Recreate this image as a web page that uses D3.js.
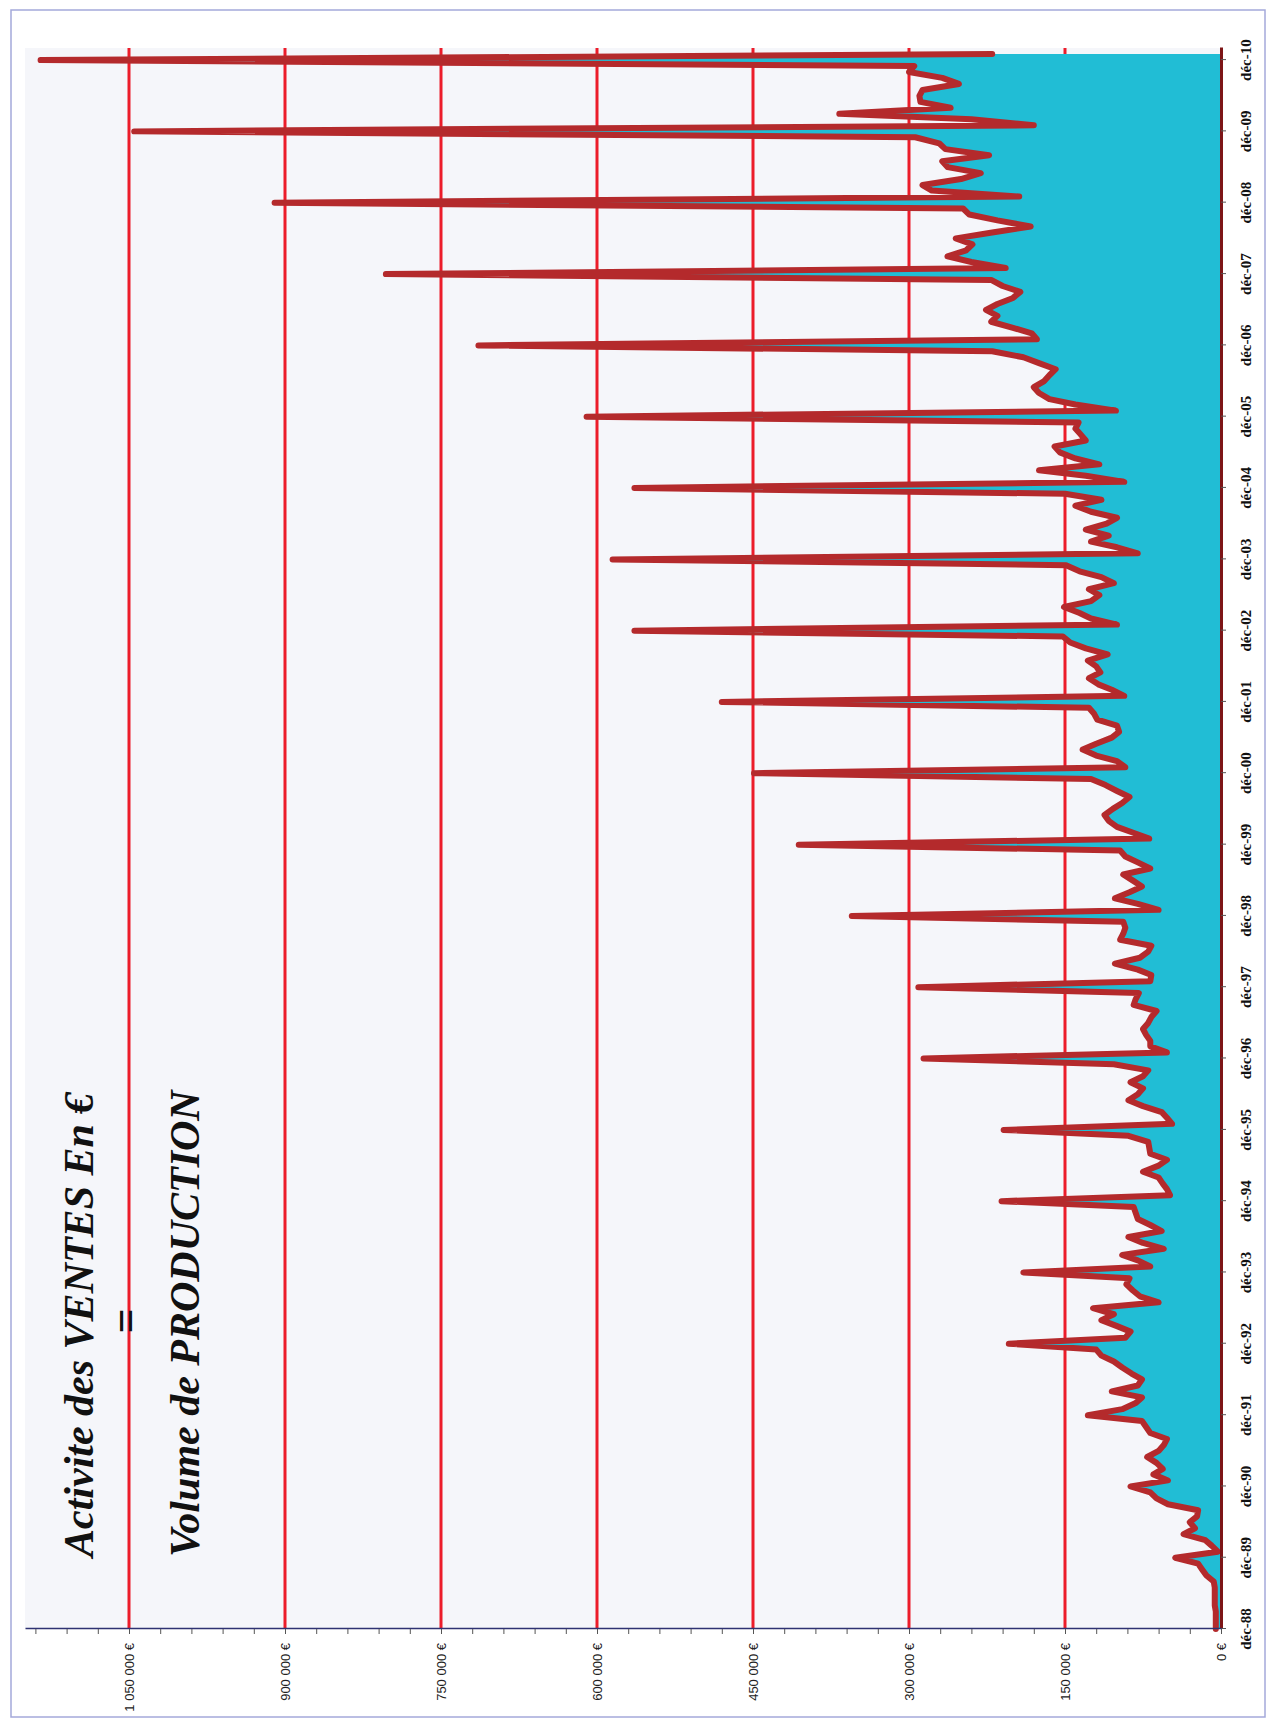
<!DOCTYPE html>
<html>
<head>
<meta charset="utf-8">
<script src="https://cdn.jsdelivr.net/npm/d3@7"></script>
<style>
  html, body { margin: 0; padding: 0; background: #fff; overflow: hidden; }
  svg { display: block; }
</style>
</head>
<body>
<svg></svg>
<script>
// monthly sales, from déc-88 to janv-11 (one row per year, Jan..Dec)
const ventes = [
  5000,
  5000, 5000, 5000, 6000, 6000, 6000, 6000, 7000, 14000, 18000, 22000, 44000,
  3000, 9000, 15000, 36000, 25000, 30000, 23000, 22000, 51000, 62000, 68000, 87000,
  51000, 65000, 56000, 62000, 71000, 60000, 55000, 52000, 68000, 72000, 76000, 128000,
  95000, 82000, 76000, 105000, 80000, 76000, 86000, 95000, 103000, 115000, 120000, 204000,
  92000, 87000, 100000, 115000, 103000, 123000, 60000, 78000, 85000, 91000, 88000, 190000,
  68000, 80000, 95000, 55000, 75000, 89000, 57000, 68000, 80000, 82000, 84000, 211000,
  49000, 52000, 56000, 60000, 75000, 60000, 52000, 68000, 69000, 70000, 89000, 209000,
  47000, 52000, 57000, 75000, 89000, 80000, 75000, 87000, 75000, 70000, 103000, 286000,
  52000, 68000, 68000, 72000, 75000, 70000, 67000, 62000, 84000, 82000, 79000, 291000,
  68000, 67000, 80000, 102000, 78000, 70000, 67000, 97000, 94000, 92000, 94000, 355000,
  60000, 80000, 102000, 88000, 76000, 85000, 94000, 68000, 80000, 92000, 97000, 406000,
  69000, 85000, 100000, 108000, 112000, 104000, 95000, 88000, 100000, 111000, 125000, 449000,
  92000, 100000, 120000, 133000, 120000, 105000, 98000, 100000, 119000, 122000, 127000, 480000,
  93000, 105000, 118000, 127000, 116000, 120000, 128000, 109000, 130000, 145000, 152000, 564000,
  100000, 125000, 136000, 151000, 125000, 117000, 127000, 103000, 115000, 136000, 149000, 585000,
  80000, 100000, 125000, 108000, 130000, 110000, 100000, 125000, 140000, 115000, 150000, 564000,
  93000, 130000, 175000, 117000, 140000, 155000, 160000, 130000, 135000, 140000, 137000, 610000,
  101000, 140000, 165000, 175000, 180000, 170000, 165000, 159000, 175000, 190000, 220000, 714000,
  177000, 182000, 200000, 221000, 215000, 226000, 215000, 200000, 193000, 210000, 221000, 803000,
  207000, 240000, 263000, 245000, 239000, 255000, 220000, 183000, 215000, 242000, 248000, 910000,
  194000, 278000, 287000, 250000, 231000, 263000, 268000, 223000, 265000, 271000, 294000, 1045000,
  180000, 240000, 367000, 260000, 289000, 290000, 287000, 252000, 268000, 300000, 295000, 1135000,
  220000
];

const tickLabels = ['déc-88', 'déc-89', 'déc-90', 'déc-91', 'déc-92', 'déc-93', 'déc-94', 'déc-95',
  'déc-96', 'déc-97', 'déc-98', 'déc-99', 'déc-00', 'déc-01', 'déc-02', 'déc-03', 'déc-04',
  'déc-05', 'déc-06', 'déc-07', 'déc-08', 'déc-09', 'déc-10'];

const valueTicks = [0, 150000, 300000, 450000, 600000, 750000, 900000, 1050000];

const titre1 = 'Activite des VENTES En €',
  titre2 = 'Volume de PRODUCTION';

const svg = d3.select('svg')
  .attr('width', 1270)
  .attr('height', 1719);

// the chart is printed turned a quarter turn: time runs upward, values run leftward
const plotLeft = 25, plotRight = 1221, plotTop = 48, plotBottom = 1629;
const innerWidth = plotBottom - plotTop,   // time length
  innerHeight = plotRight - plotLeft;      // value length

const start = new Date(1988, 11, 1);
const data = ventes.map((v, i) => ({ date: d3.timeMonth.offset(start, i), value: v }));

const xScale = d3.scaleTime()
  .domain([start, d3.timeMonth.offset(start, 266)])
  .range([0, innerWidth]);

const yScale = d3.scaleLinear()
  .domain([0, 1150000])
  .range([innerHeight, 0]);

const fr = d3.formatLocale({ decimal: ',', thousands: '\u00a0', grouping: [3], currency: ['', ' €'] });
const euro = fr.format('$,');

// frame
svg.append('rect')
  .attr('x', 11).attr('y', 10)
  .attr('width', 1254).attr('height', 1707)
  .attr('fill', '#fff')
  .attr('stroke', '#a4a9da')
  .attr('stroke-width', 1.5);

const g = svg.append('g')
  .attr('transform', `translate(${plotLeft}, ${plotBottom}) rotate(-90)`);

g.append('rect')
  .attr('width', innerWidth)
  .attr('height', innerHeight)
  .attr('fill', '#f5f6fa');

// grid
g.selectAll('.grid').data(valueTicks.slice(1))
  .enter().append('line')
  .attr('class', 'grid')
  .attr('x1', 0).attr('x2', innerWidth)
  .attr('y1', d => yScale(d)).attr('y2', d => yScale(d))
  .attr('stroke', '#ec1c2a')
  .attr('stroke-width', 3);

const areaGenerator = d3.area()
  .x(d => xScale(d.date))
  .y0(innerHeight)
  .y1(d => yScale(d.value));

const lineGenerator = d3.line()
  .x(d => xScale(d.date))
  .y(d => yScale(d.value));

g.append('path')
  .attr('d', areaGenerator(data))
  .attr('fill', '#21bdd5');

g.append('path')
  .attr('d', lineGenerator(data))
  .attr('fill', 'none')
  .attr('stroke', '#b42a2c')
  .attr('stroke-width', 6)
  .attr('stroke-linejoin', 'round')
  .attr('stroke-linecap', 'round');

// time axis (right side once turned), labels drawn separately below
const decDates = tickLabels.map((t, i) => d3.timeMonth.offset(start, 12 * i));
const xAxis = d3.axisBottom(xScale)
  .tickValues(decDates)
  .tickFormat('')
  .tickSize(5)
  .tickSizeOuter(0);

const xAxisG = g.append('g')
  .attr('transform', `translate(0, ${innerHeight})`)
  .call(xAxis);
xAxisG.select('.domain').attr('stroke', '#7d1517').attr('stroke-width', 3);
xAxisG.selectAll('.tick line').attr('stroke', '#555');

// value axis (bottom once turned)
const minorAxis = d3.axisLeft(yScale)
  .tickValues(d3.range(0, 1150001, 30000))
  .tickSize(5)
  .tickSizeOuter(0)
  .tickFormat('');
const minorG = g.append('g').call(minorAxis);
minorG.select('.domain').attr('stroke', '#2f3272').attr('stroke-width', 1.5);
minorG.selectAll('.tick line').attr('stroke', '#555');

// tick labels, placed in page coordinates from the same scales
svg.append('g').selectAll('text')
  .data(decDates)
  .enter().append('text')
  .attr('transform', d => `translate(1251, ${plotBottom - xScale(d)}) rotate(-90)`)
  .attr('text-anchor', 'middle')
  .attr('fill', '#111')
  .style('font', 'bold 15px "Liberation Serif", serif')
  .text((d, i) => tickLabels[i]);

svg.append('g').selectAll('text')
  .data(valueTicks)
  .enter().append('text')
  .attr('transform', d => `translate(${plotLeft + yScale(d) + 4.5}, 1643) rotate(-90)`)
  .attr('text-anchor', 'end')
  .attr('fill', '#222')
  .style('font', '13px "Liberation Sans", Arial, sans-serif')
  .text(euro);

// titles
svg.append('text')
  .attr('transform', 'translate(93, 1557) rotate(-90)')
  .style('font', 'italic bold 42px "Liberation Serif", serif')
  .attr('fill', '#111')
  .text(titre1);

svg.append('text')
  .attr('transform', 'translate(140, 1321) rotate(-90)')
  .attr('text-anchor', 'middle')
  .style('font', 'bold 44px "Liberation Serif", serif')
  .attr('fill', '#111')
  .text('=');

svg.append('text')
  .attr('transform', 'translate(199, 1557) rotate(-90)')
  .style('font', 'italic bold 42px "Liberation Serif", serif')
  .attr('fill', '#111')
  .text(titre2);
</script>
</body>
</html>
